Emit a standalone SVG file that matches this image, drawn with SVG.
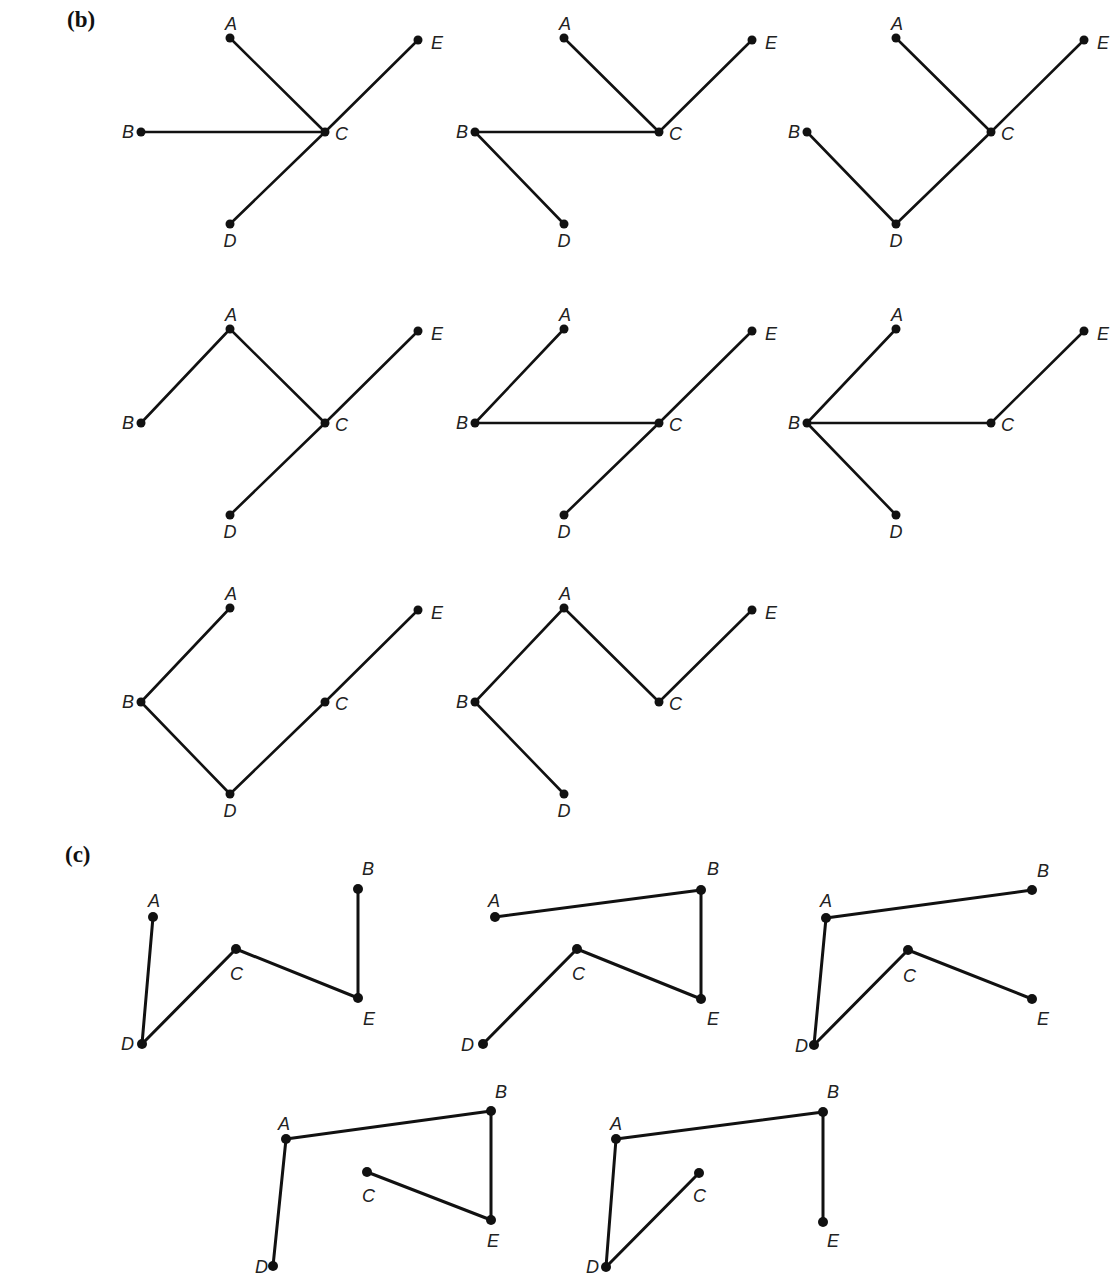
<svg xmlns="http://www.w3.org/2000/svg" width="1118" height="1277" viewBox="0 0 1118 1277">
<style>
.e{stroke:#111;stroke-width:2.6;stroke-linecap:round;fill:none}
.c{stroke-width:3}
.n circle{fill:#111}
.n text{font-family:"Liberation Sans",Arial,sans-serif;font-style:italic;font-size:18px;fill:#222}
.m{text-anchor:middle}
.s{text-anchor:start}
.r{text-anchor:end}
.h{font-family:"Liberation Serif","Times New Roman",serif;font-weight:bold;font-size:23px;fill:#111}
</style>
<rect width="1118" height="1277" fill="#fff"/>
<text class="h" x="67" y="27">(b)</text>
<text class="h" x="65" y="862">(c)</text>
<g id="connectors">
<!-- b1 -->
<line class="e" x1="230" y1="38" x2="325" y2="132"/>
<line class="e" x1="141" y1="132" x2="325" y2="132"/>
<line class="e" x1="325" y1="132" x2="418" y2="40"/>
<line class="e" x1="325" y1="132" x2="230" y2="224"/>
<!-- b2 -->
<line class="e" x1="564" y1="38" x2="659" y2="132"/>
<line class="e" x1="659" y1="132" x2="752" y2="40"/>
<line class="e" x1="475" y1="132" x2="659" y2="132"/>
<line class="e" x1="475" y1="132" x2="564" y2="224"/>
<!-- b3 -->
<line class="e" x1="896" y1="38" x2="991" y2="132"/>
<line class="e" x1="991" y1="132" x2="1084" y2="40"/>
<line class="e" x1="991" y1="132" x2="896" y2="224"/>
<line class="e" x1="807" y1="132" x2="896" y2="224"/>
<!-- b4 -->
<line class="e" x1="230" y1="329" x2="141" y2="423"/>
<line class="e" x1="230" y1="329" x2="325" y2="423"/>
<line class="e" x1="325" y1="423" x2="418" y2="331"/>
<line class="e" x1="325" y1="423" x2="230" y2="515"/>
<!-- b5 -->
<line class="e" x1="564" y1="329" x2="475" y2="423"/>
<line class="e" x1="475" y1="423" x2="659" y2="423"/>
<line class="e" x1="659" y1="423" x2="752" y2="331"/>
<line class="e" x1="659" y1="423" x2="564" y2="515"/>
<!-- b6 -->
<line class="e" x1="896" y1="329" x2="807" y2="423"/>
<line class="e" x1="807" y1="423" x2="991" y2="423"/>
<line class="e" x1="807" y1="423" x2="896" y2="515"/>
<line class="e" x1="991" y1="423" x2="1084" y2="331"/>
<!-- b7 -->
<line class="e" x1="230" y1="608" x2="141" y2="702"/>
<line class="e" x1="141" y1="702" x2="230" y2="794"/>
<line class="e" x1="230" y1="794" x2="325" y2="702"/>
<line class="e" x1="325" y1="702" x2="418" y2="610"/>
<!-- b8 -->
<line class="e" x1="564" y1="608" x2="475" y2="702"/>
<line class="e" x1="564" y1="608" x2="659" y2="702"/>
<line class="e" x1="659" y1="702" x2="752" y2="610"/>
<line class="e" x1="475" y1="702" x2="564" y2="794"/>
<!-- c1 -->
<line class="e c" x1="153" y1="917" x2="142" y2="1044"/>
<line class="e c" x1="142" y1="1044" x2="236" y2="949"/>
<line class="e c" x1="236" y1="949" x2="358" y2="998"/>
<line class="e c" x1="358" y1="998" x2="358" y2="889"/>
<!-- c2 -->
<line class="e c" x1="495" y1="917" x2="701" y2="890"/>
<line class="e c" x1="701" y1="890" x2="701" y2="999"/>
<line class="e c" x1="701" y1="999" x2="577" y2="949"/>
<line class="e c" x1="577" y1="949" x2="483" y2="1044"/>
<!-- c3 -->
<line class="e c" x1="826" y1="918" x2="1032" y2="890"/>
<line class="e c" x1="826" y1="918" x2="814" y2="1045"/>
<line class="e c" x1="814" y1="1045" x2="908" y2="950"/>
<line class="e c" x1="908" y1="950" x2="1032" y2="999"/>
<!-- c4 -->
<line class="e c" x1="286" y1="1139" x2="491" y2="1111"/>
<line class="e c" x1="491" y1="1111" x2="491" y2="1220"/>
<line class="e c" x1="491" y1="1220" x2="367" y2="1172"/>
<line class="e c" x1="286" y1="1139" x2="273" y2="1266"/>
<!-- c5 -->
<line class="e c" x1="616" y1="1139" x2="823" y2="1112"/>
<line class="e c" x1="823" y1="1112" x2="823" y2="1222"/>
<line class="e c" x1="616" y1="1139" x2="606" y2="1267"/>
<line class="e c" x1="606" y1="1267" x2="699" y2="1173"/>
</g>
<!-- panel b graph 1 -->
<g id="b1-A" class="n"><circle cx="230" cy="38" r="4.5"/><text class="m" x="231" y="30">A</text></g>
<g id="b1-B" class="n"><circle cx="141" cy="132" r="4.5"/><text class="r" x="134" y="138">B</text></g>
<g id="b1-C" class="n"><circle cx="325" cy="132" r="4.5"/><text class="s" x="335" y="140">C</text></g>
<g id="b1-D" class="n"><circle cx="230" cy="224" r="4.5"/><text class="m" x="230" y="247">D</text></g>
<g id="b1-E" class="n"><circle cx="418" cy="40" r="4.5"/><text class="s" x="431" y="49">E</text></g>
<!-- graph 2 -->
<g id="b2-A" class="n"><circle cx="564" cy="38" r="4.5"/><text class="m" x="565" y="30">A</text></g>
<g id="b2-B" class="n"><circle cx="475" cy="132" r="4.5"/><text class="r" x="468" y="138">B</text></g>
<g id="b2-C" class="n"><circle cx="659" cy="132" r="4.5"/><text class="s" x="669" y="140">C</text></g>
<g id="b2-D" class="n"><circle cx="564" cy="224" r="4.5"/><text class="m" x="564" y="247">D</text></g>
<g id="b2-E" class="n"><circle cx="752" cy="40" r="4.5"/><text class="s" x="765" y="49">E</text></g>
<!-- graph 3 -->
<g id="b3-A" class="n"><circle cx="896" cy="38" r="4.5"/><text class="m" x="897" y="30">A</text></g>
<g id="b3-B" class="n"><circle cx="807" cy="132" r="4.5"/><text class="r" x="800" y="138">B</text></g>
<g id="b3-C" class="n"><circle cx="991" cy="132" r="4.5"/><text class="s" x="1001" y="140">C</text></g>
<g id="b3-D" class="n"><circle cx="896" cy="224" r="4.5"/><text class="m" x="896" y="247">D</text></g>
<g id="b3-E" class="n"><circle cx="1084" cy="40" r="4.5"/><text class="s" x="1097" y="49">E</text></g>
<!-- graph 4 -->
<g id="b4-A" class="n"><circle cx="230" cy="329" r="4.5"/><text class="m" x="231" y="321">A</text></g>
<g id="b4-B" class="n"><circle cx="141" cy="423" r="4.5"/><text class="r" x="134" y="429">B</text></g>
<g id="b4-C" class="n"><circle cx="325" cy="423" r="4.5"/><text class="s" x="335" y="431">C</text></g>
<g id="b4-D" class="n"><circle cx="230" cy="515" r="4.5"/><text class="m" x="230" y="538">D</text></g>
<g id="b4-E" class="n"><circle cx="418" cy="331" r="4.5"/><text class="s" x="431" y="340">E</text></g>
<!-- graph 5 -->
<g id="b5-A" class="n"><circle cx="564" cy="329" r="4.5"/><text class="m" x="565" y="321">A</text></g>
<g id="b5-B" class="n"><circle cx="475" cy="423" r="4.5"/><text class="r" x="468" y="429">B</text></g>
<g id="b5-C" class="n"><circle cx="659" cy="423" r="4.5"/><text class="s" x="669" y="431">C</text></g>
<g id="b5-D" class="n"><circle cx="564" cy="515" r="4.5"/><text class="m" x="564" y="538">D</text></g>
<g id="b5-E" class="n"><circle cx="752" cy="331" r="4.5"/><text class="s" x="765" y="340">E</text></g>
<!-- graph 6 -->
<g id="b6-A" class="n"><circle cx="896" cy="329" r="4.5"/><text class="m" x="897" y="321">A</text></g>
<g id="b6-B" class="n"><circle cx="807" cy="423" r="4.5"/><text class="r" x="800" y="429">B</text></g>
<g id="b6-C" class="n"><circle cx="991" cy="423" r="4.5"/><text class="s" x="1001" y="431">C</text></g>
<g id="b6-D" class="n"><circle cx="896" cy="515" r="4.5"/><text class="m" x="896" y="538">D</text></g>
<g id="b6-E" class="n"><circle cx="1084" cy="331" r="4.5"/><text class="s" x="1097" y="340">E</text></g>
<!-- graph 7 -->
<g id="b7-A" class="n"><circle cx="230" cy="608" r="4.5"/><text class="m" x="231" y="600">A</text></g>
<g id="b7-B" class="n"><circle cx="141" cy="702" r="4.5"/><text class="r" x="134" y="708">B</text></g>
<g id="b7-C" class="n"><circle cx="325" cy="702" r="4.5"/><text class="s" x="335" y="710">C</text></g>
<g id="b7-D" class="n"><circle cx="230" cy="794" r="4.5"/><text class="m" x="230" y="817">D</text></g>
<g id="b7-E" class="n"><circle cx="418" cy="610" r="4.5"/><text class="s" x="431" y="619">E</text></g>
<!-- graph 8 -->
<g id="b8-A" class="n"><circle cx="564" cy="608" r="4.5"/><text class="m" x="565" y="600">A</text></g>
<g id="b8-B" class="n"><circle cx="475" cy="702" r="4.5"/><text class="r" x="468" y="708">B</text></g>
<g id="b8-C" class="n"><circle cx="659" cy="702" r="4.5"/><text class="s" x="669" y="710">C</text></g>
<g id="b8-D" class="n"><circle cx="564" cy="794" r="4.5"/><text class="m" x="564" y="817">D</text></g>
<g id="b8-E" class="n"><circle cx="752" cy="610" r="4.5"/><text class="s" x="765" y="619">E</text></g>
<!-- panel c graph 1 -->
<g id="c1-A" class="n"><circle cx="153" cy="917" r="5"/><text class="m" x="154" y="907">A</text></g>
<g id="c1-B" class="n"><circle cx="358" cy="889" r="5"/><text class="s" x="362" y="875">B</text></g>
<g id="c1-C" class="n"><circle cx="236" cy="949" r="5"/><text class="s" x="230" y="980">C</text></g>
<g id="c1-D" class="n"><circle cx="142" cy="1044" r="5"/><text class="r" x="134" y="1050">D</text></g>
<g id="c1-E" class="n"><circle cx="358" cy="998" r="5"/><text class="s" x="363" y="1025">E</text></g>
<!-- c2 -->
<g id="c2-A" class="n"><circle cx="495" cy="917" r="5"/><text class="s" x="488" y="907">A</text></g>
<g id="c2-B" class="n"><circle cx="701" cy="890" r="5"/><text class="s" x="707" y="875">B</text></g>
<g id="c2-C" class="n"><circle cx="577" cy="949" r="5"/><text class="s" x="572" y="980">C</text></g>
<g id="c2-D" class="n"><circle cx="483" cy="1044" r="5"/><text class="r" x="474" y="1051">D</text></g>
<g id="c2-E" class="n"><circle cx="701" cy="999" r="5"/><text class="s" x="707" y="1025">E</text></g>
<!-- c3 -->
<g id="c3-A" class="n"><circle cx="826" cy="918" r="5"/><text class="s" x="820" y="907">A</text></g>
<g id="c3-B" class="n"><circle cx="1032" cy="890" r="5"/><text class="s" x="1037" y="877">B</text></g>
<g id="c3-C" class="n"><circle cx="908" cy="950" r="5"/><text class="s" x="903" y="982">C</text></g>
<g id="c3-D" class="n"><circle cx="814" cy="1045" r="5"/><text class="r" x="808" y="1052">D</text></g>
<g id="c3-E" class="n"><circle cx="1032" cy="999" r="5"/><text class="s" x="1037" y="1025">E</text></g>
<!-- c4 -->
<g id="c4-A" class="n"><circle cx="286" cy="1139" r="5"/><text class="s" x="278" y="1130">A</text></g>
<g id="c4-B" class="n"><circle cx="491" cy="1111" r="5"/><text class="s" x="495" y="1098">B</text></g>
<g id="c4-C" class="n"><circle cx="367" cy="1172" r="5"/><text class="s" x="362" y="1202">C</text></g>
<g id="c4-D" class="n"><circle cx="273" cy="1266" r="5"/><text class="r" x="268" y="1273">D</text></g>
<g id="c4-E" class="n"><circle cx="491" cy="1220" r="5"/><text class="s" x="487" y="1247">E</text></g>
<!-- c5 -->
<g id="c5-A" class="n"><circle cx="616" cy="1139" r="5"/><text class="s" x="610" y="1130">A</text></g>
<g id="c5-B" class="n"><circle cx="823" cy="1112" r="5"/><text class="s" x="827" y="1098">B</text></g>
<g id="c5-C" class="n"><circle cx="699" cy="1173" r="5"/><text class="s" x="693" y="1202">C</text></g>
<g id="c5-D" class="n"><circle cx="606" cy="1267" r="5"/><text class="r" x="599" y="1273">D</text></g>
<g id="c5-E" class="n"><circle cx="823" cy="1222" r="5"/><text class="s" x="827" y="1247">E</text></g>
</svg>
